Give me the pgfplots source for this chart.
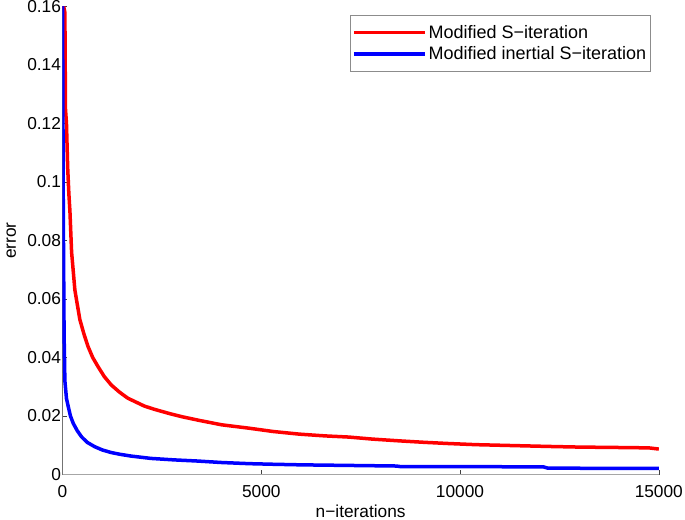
\documentclass[border=0pt]{standalone}
\usepackage{pgfplots}
\pgfplotsset{compat=1.18}
\usepackage{fontspec}
\setmainfont{Liberation Sans}
\definecolor{mred}{RGB}{255,0,0}
\definecolor{mblue}{RGB}{0,0,255}
\newcommand{\mf}{\fontsize{17.3bp}{21bp}\selectfont}
\newcommand{\lf}{\fontsize{18bp}{21bp}\selectfont}
\begin{document}
\begin{tikzpicture}
\begin{axis}[
  scale only axis,
  width=596.3bp, height=468bp,
  xmin=0, xmax=15000, ymin=0, ymax=0.16,
  axis x line*=bottom, axis y line*=left,
  x axis line style={black!35, line width=1bp},
  y axis line style={black!55, line width=1bp},
  tick align=inside,
  major tick length=5bp,
  tick style={black!75, line width=0.6bp},
  xtick={0,5000,10000,15000},
  ytick={0,0.02,0.04,0.06,0.08,0.1,0.12,0.14,0.16},
  scaled x ticks=false, scaled y ticks=false,
  /pgf/number format/fixed,
  /pgf/number format/precision=2,
  /pgf/number format/1000 sep={},
  /pgf/number format/assume math mode=true,
  tick label style={font=\mf},
  label style={font=\mf},
  xticklabel style={anchor=base, yshift=-23bp},
  yticklabel style={xshift=2bp},
  xlabel={n−iterations},
  ylabel={error},
  xlabel style={at={(rel axis cs:0.5,0)}, anchor=base, yshift=-42.5bp},
  ylabel style={at={([xshift=-46.5bp]rel axis cs:0,0.5)}, anchor=base},
  legend style={at={(rel axis cs:1,1)}, anchor=north east, xshift=-8.3bp, yshift=-8.5bp,
    draw=black!45, line width=0.6bp, font=\lf, inner xsep=2bp, inner ysep=8bp, row sep=2.7bp},
  legend cell align=left,
  legend image code/.code={\path (0bp,0bp) -- (71bp,0bp); \draw[#1] (11bp,0bp) -- (68bp,0bp);},
]
\coordinate (O) at (rel axis cs:0,0);
\addplot[mred, line width=3.5bp] coordinates {
(1,0.162) (60,0.158) (75,0.125) (100,0.120) (130,0.105) (160,0.096) (187,0.090) (229,0.076)
(312,0.063) (436,0.053) (540,0.048) (644,0.0437) (760,0.040) (893,0.0369) (1050,0.0335)
(1227,0.0306) (1430,0.0282) (1641,0.0261) (2058,0.0234) (2307,0.0223) (2700,0.0208)
(3023,0.0197) (3439,0.0185) (4000,0.0170) (4709,0.0158) (5300,0.0147) (5956,0.0138)
(6600,0.0132) (7200,0.0128) (7800,0.0121) (8473,0.0115) (9100,0.0110) (9694,0.0106)
(10400,0.0102) (11000,0.0100) (11600,0.0098) (12200,0.0096) (12900,0.0094)
(13500,0.0093) (14200,0.0092) (14750,0.0091) (15000,0.0087)
};
\addlegendentry{Modified S−iteration}
\addplot[mblue, line width=3.5bp] coordinates {
(1,0.162) (20,0.090) (40,0.048) (60,0.032) (100,0.026) (145,0.0232) (200,0.0200)
(270,0.0175) (370,0.0150) (478,0.0129) (620,0.0110) (811,0.0095) (1000,0.0084)
(1227,0.0075) (1450,0.0069) (1725,0.0063) (2225,0.0055) (2800,0.0050) (3400,0.0046)
(4000,0.0041) (4709,0.0037) (5300,0.0035) (6000,0.0033) (7200,0.0031) (8400,0.0029)
(8500,0.0027) (10000,0.0027) (12100,0.0026) (12200,0.0022) (13500,0.0021) (15000,0.0021)
};
\addlegendentry{Modified inertial S−iteration}
\end{axis}
\pgfresetboundingbox
\useasboundingbox ([shift={(-62.5bp,-45.5bp)}]O) rectangle ([shift={(622.5bp,474.5bp)}]O);
\end{tikzpicture}
\end{document}
